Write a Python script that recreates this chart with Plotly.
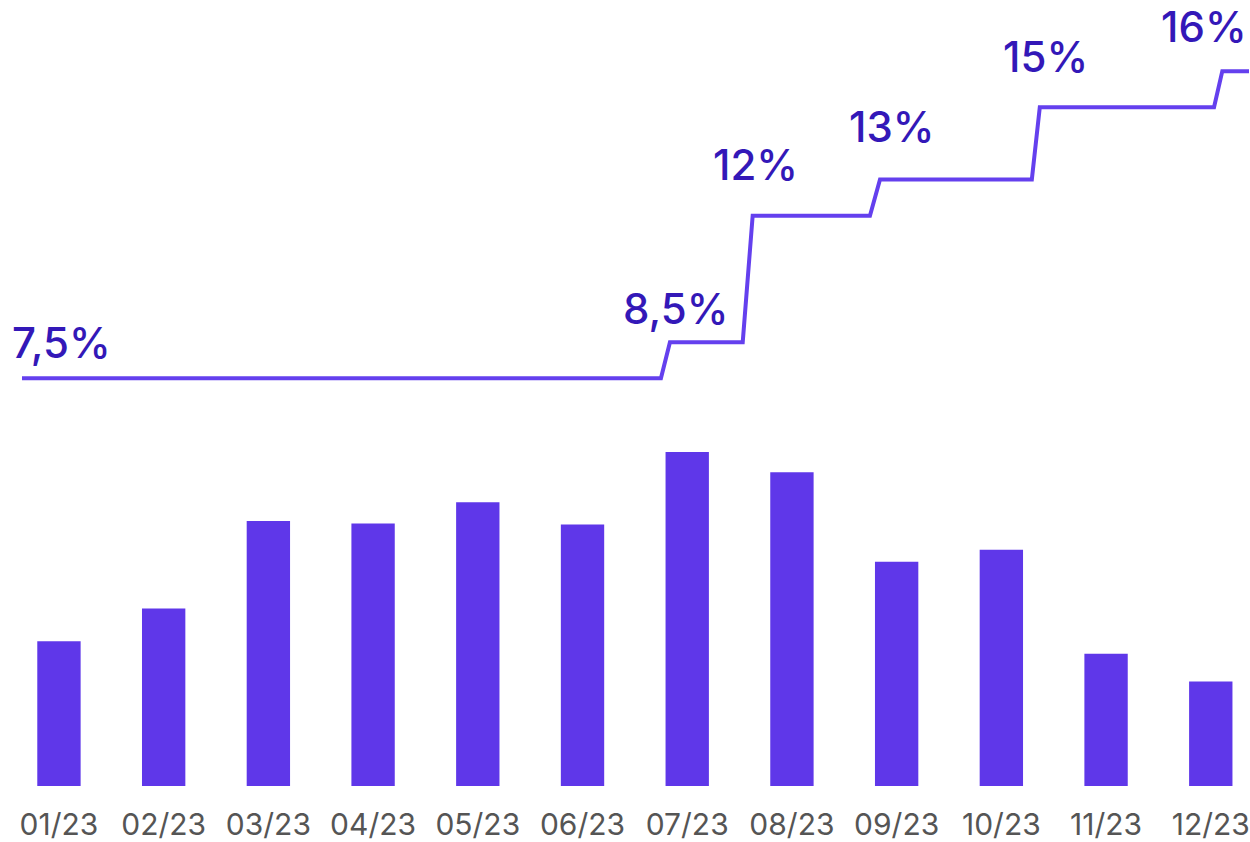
import plotly.graph_objects as go

BAR = "#5f37e9"
LINE = "#6440ee"
LABEL = "#3318b8"
TICK = "#555555"

# monthly volumes (bars)
months = ["01/23", "02/23", "03/23", "04/23", "05/23", "06/23",
          "07/23", "08/23", "09/23", "10/23", "11/23", "12/23"]
volumes = [145.5, 178.5, 266.5, 264, 285.5, 263, 336, 315.5, 225.5, 237.5, 133, 105]

# key rate step line, x in month-index units (0 = 01/23)
rate_x = [-0.353, 5.749, 5.835, 6.530, 6.625, 7.745, 7.841, 9.291, 9.367, 11.031, 11.110, 11.6]
rate_y = [7.5, 7.5, 8.5, 8.5, 12, 12, 13, 13, 15, 15, 16, 16]

# rate labels
label_text = ["7,5%", "8,5%", "12%", "13%", "15%", "16%"]
label_rate = [7.5, 8.5, 12, 13, 15, 16]

# where each label sits: x in month-index units, pixel lift above its step
label_x = [0.024, 5.892, 6.651, 7.953, 9.423, 10.935]
label_lift = [36, 34, 51, 53, 51, 45]

fig = go.Figure()
fig.add_bar(x=list(range(len(months))), y=volumes, marker_color=BAR,
            marker_line_width=0, width=0.414)
fig.add_scatter(x=rate_x, y=rate_y, yaxis="y2", mode="lines",
                line=dict(color=LINE, width=4), hoverinfo="skip")

for t, xv, r, dy in zip(label_text, label_x, label_rate, label_lift):
    fig.add_annotation(x=xv, y=r, yref="y2", text=t, showarrow=False,
                       xanchor="center", yanchor="middle", yshift=dy,
                       font=dict(family="Inter, Roboto, sans-serif", size=42,
                                 color=LABEL, weight=500))

fig.update_layout(
    width=1250, height=842,
    paper_bgcolor="white", plot_bgcolor="white",
    margin=dict(l=0, r=0, t=0, b=51.5),
    showlegend=False,
    font=dict(family="Inter, Roboto, sans-serif"),
    xaxis=dict(range=[-0.563, 11.365], tickvals=list(range(len(months))),
               ticktext=months, showgrid=False, zeroline=False, showline=False,
               ticks="", ticklabelstandoff=18, ticklabeloverflow="allow",
               tickfont=dict(size=30, color=TICK)),
    yaxis=dict(range=[0, 790.5], visible=False),
    yaxis2=dict(range=[-3.779, 17.968], overlaying="y", visible=False),
)

# drop the default body margin so the figure sits flush in the window
fig.write_html("out.html", config={"displayModeBar": False},
               post_script="document.body.style.margin='0';")
